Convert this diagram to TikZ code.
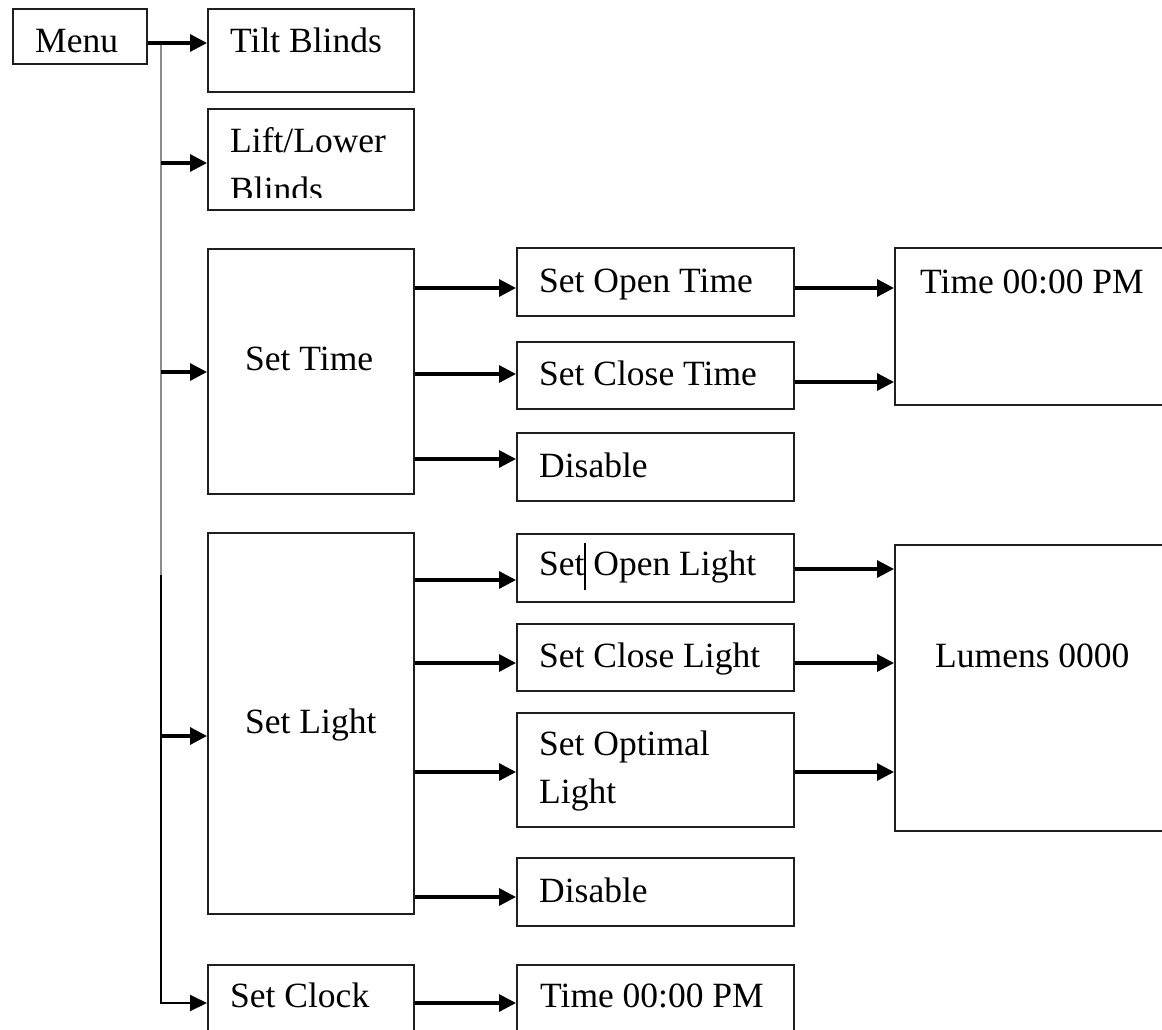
\documentclass[tikz,border=0pt]{standalone}
\usepackage{fontspec}
\setmainfont{Liberation Serif}
\usetikzlibrary{arrows.meta}
\tikzset{
  box/.style={draw=black!88, line width=1.8pt, anchor=north west, inner sep=0pt, minimum width=#1},
  box/.default=277,
  txt/.style={anchor=base west, inner sep=0pt, font=\fontsize{35.5}{47}\selectfont},
  arr/.style={line width=3.2pt, -{Triangle[length=17pt,width=17pt]}},
  thinarr/.style={line width=2pt, -{Triangle[length=17pt,width=16pt]}},
  trunk/.style={line width=2pt},
}
\begin{document}
\begin{tikzpicture}[x=1pt,y=-1pt]
\useasboundingbox (0,0) rectangle (1162,1030);
\clip (0,0) rectangle (1162,1030);
% boxes
\node[box=134, minimum height=55] (menu) at (12,8) {};
\node[box=206, minimum height=83] (tilt) at (207,8) {};
\node[box=206, minimum height=101] (lift) at (207,108) {};
\node[box=206, minimum height=245] (settime) at (207,248) {};
\node[box, minimum height=68] (openT) at (516,247) {};
\node[box, minimum height=67] (closeT) at (516,341) {};
\node[box, minimum height=68] (disT) at (516,432) {};
\node[box=320, minimum height=157] (timebox) at (894,247) {};
\node[box=206, minimum height=381] (setlight) at (207,532) {};
\node[box, minimum height=68] (openL) at (516,533) {};
\node[box, minimum height=67] (closeL) at (516,623) {};
\node[box, minimum height=114] (optL) at (516,712) {};
\node[box, minimum height=68] (disL) at (516,857) {};
\node[box=320, minimum height=286] (lumens) at (894,544) {};
\node[box=206, minimum height=100] (setclock) at (207,964) {};
\node[box, minimum height=100] (clocktime) at (516,964) {};
% texts
\node[txt] (tmenu) at (35,53) {Menu};
\node[txt] (ttilt) at (230,53) {Tilt Blinds};
\node[txt] (tlift1) at (230,153) {Lift/Lower};
\begin{scope}
\clip (207,108) rectangle (413,197);
\node[txt] (tlift2) at (230,201) {Blinds};
\end{scope}
\node[txt] (tsettime) at (245,370) {Set Time};
\node[txt] (topenT) at (539,292) {Set Open Time};
\node[txt] (tcloseT) at (539,385) {Set Close Time};
\node[txt] (tdisT) at (539,477) {Disable};
\node[txt] (ttime) at (920,293) {Time 00:00 PM};
\node[txt] (tsetlight) at (245,733) {Set Light};
\node[txt] (topenL) at (539,575) {Set Open Light};
\node[txt] (tcloseL) at (539,667) {Set Close Light};
\node[txt] (toptL1) at (539,755) {Set Optimal};
\node[txt] (toptL2) at (539,803) {Light};
\node[txt] (tdisL) at (539,902) {Disable};
\node[txt] (tlumens) at (935,667) {Lumens 0000};
\node[txt] (tsetclock) at (230,1007) {Set Clock};
\node[txt] (tclocktime) at (540,1007) {Time 00:00 PM};
% text cursor mark
\draw[line width=1.2pt] (585,543) -- (585,590);
% trunk
\coordinate (vtop) at (161,43);
\coordinate (vmid) at (161,575);
\coordinate (b1) at (161,163);
\coordinate (b2) at (161,372);
\coordinate (b3) at (161,736);
\draw[trunk, draw=black!45] (vtop) -- (vmid);
\draw[thinarr] (vmid) |- (setclock.west |- 0,1003);
% arrows
\draw[arr] (menu.east |- 0,43) -- (tilt.west |- 0,43);
\draw[arr] (b1) -- (lift.west |- b1);
\draw[arr] (b2) -- (settime.west |- b2);
\draw[arr] (b3) -- (setlight.west |- b3);
\draw[arr] (settime.east |- 0,288) -- (openT.west |- 0,288);
\draw[arr] (settime.east |- 0,374) -- (closeT.west |- 0,374);
\draw[arr] (settime.east |- 0,459) -- (disT.west |- 0,459);
\draw[arr] (openT.east |- 0,288) -- (timebox.west |- 0,288);
\draw[arr] (closeT.east |- 0,382) -- (timebox.west |- 0,382);
\draw[arr] (setlight.east |- 0,580) -- (openL.west |- 0,580);
\draw[arr] (setlight.east |- 0,663) -- (closeL.west |- 0,663);
\draw[arr] (setlight.east |- 0,772) -- (optL.west |- 0,772);
\draw[arr] (setlight.east |- 0,897) -- (disL.west |- 0,897);
\draw[arr] (openL.east |- 0,569) -- (lumens.west |- 0,569);
\draw[arr] (closeL.east |- 0,663) -- (lumens.west |- 0,663);
\draw[arr] (optL.east |- 0,772) -- (lumens.west |- 0,772);
\draw[arr] (setclock.east |- 0,1003) -- (clocktime.west |- 0,1003);
\end{tikzpicture}
\end{document}
